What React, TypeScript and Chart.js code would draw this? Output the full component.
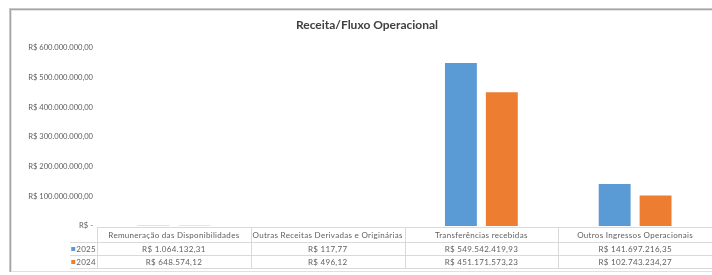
import React, { useEffect, useRef } from "react";
import { Chart, registerables } from "chart.js";

Chart.register(...registerables);

const title = "Receita/Fluxo Operacional";
const categories = [
  "Remuneração das Disponibilidades",
  "Outras Receitas Derivadas e Originárias",
  "Transferências recebidas",
  "Outros Ingressos Operacionais",
];
const seriesLabels = ["2025", "2024"];
const values2025 = [1064132.31, 117.77, 549542419.93, 141697216.35];
const values2024 = [648574.12, 496.12, 451171573.23, 102743234.27];
const yMin = 0;
const yMax = 600000000;
const yStep = 100000000;

const COLORS = ["#5B9BD5", "#ED7D31"];
const TEXT = "#606060";
const FONT = "Lato, 'Open Sans', sans-serif";

function fmtBR(v: number): string {
  const fixed = Math.abs(v).toFixed(2);
  const [intPart, dec] = fixed.split(".");
  const withDots = intPart.replace(/\B(?=(\d{3})+(?!\d))/g, ".");
  return (v < 0 ? "-" : "") + withDots + "," + dec;
}
function fmtMoney(v: number): string {
  if (v === 0) return "R$ -";
  return "R$ " + fmtBR(v);
}

const framePlugin = {
  id: "frame",
  beforeDraw(chart: any) {
    const { ctx, width, height } = chart;
    ctx.save();
    ctx.fillStyle = "#ffffff";
    ctx.fillRect(0, 0, width, height);
    ctx.fillStyle = "#c8c8c8";
    ctx.fillRect(9, 8, width - 9, 1);
    ctx.fillStyle = "#a6a6a6";
    ctx.fillRect(9, 9, width - 9, 1);
    ctx.fillStyle = "#e4e4e4";
    ctx.fillRect(11, 10, width - 11, 1);
    ctx.fillStyle = "#c8c8c8";
    ctx.fillRect(9, 8, 1, 264);
    ctx.fillStyle = "#a6a6a6";
    ctx.fillRect(10, 9, 1, 263);
    ctx.fillStyle = "#e4e4e4";
    ctx.fillRect(11, 10, 1, 262);
    ctx.fillStyle = "#e0e0e0";
    ctx.fillRect(11, 271, width - 11, 1);
    ctx.restore();
  },
  afterDraw(chart: any) {
    const { ctx, chartArea } = chart;
    ctx.save();
    ctx.fillStyle = "#404040";
    ctx.font = `bold 12px ${FONT}`;
    ctx.textAlign = "center";
    ctx.textBaseline = "middle";
    ctx.fillText(title, 367, 25);

    const left = chartArea.left;
    const right = chartArea.right;
    const n = categories.length;
    const w = (right - left) / n;
    const yTop = Math.round(chartArea.bottom) + 1;
    const yHead = yTop + 15;
    const yRow1 = yHead + 13;
    const yRow2 = yRow1 + 13;
    ctx.strokeStyle = "#d9d9d9";
    ctx.lineWidth = 1;
    ctx.beginPath();
    ctx.moveTo(left, yTop + 0.5);
    ctx.lineTo(right, yTop + 0.5);
    for (const yy of [yHead, yRow1, yRow2]) {
      ctx.moveTo(70, yy + 0.5);
      ctx.lineTo(right, yy + 0.5);
    }
    for (let i = 0; i < n; i++) {
      const xx = Math.round(left + i * w) + 0.5;
      ctx.moveTo(xx, yTop);
      ctx.lineTo(xx, yRow2 + 1);
    }
    ctx.stroke();

    ctx.fillStyle = TEXT;
    ctx.font = `8px ${FONT}`;
    (ctx as any).letterSpacing = "0.3px";
    ctx.textAlign = "center";
    ctx.textBaseline = "middle";
    const rows = [values2025, values2024];
    categories.forEach((c, i) => {
      const cx = left + (i + 0.5) * w;
      ctx.fillText(c, cx, (yTop + yHead) / 2 + 0.5);
      ctx.fillText(fmtMoney(rows[0][i]), cx, (yHead + yRow1) / 2 + 0.5);
      ctx.fillText(fmtMoney(rows[1][i]), cx, (yRow1 + yRow2) / 2 + 0.5);
    });
    const rowYs = [(yHead + yRow1) / 2 + 0.5, (yRow1 + yRow2) / 2 + 0.5];
    seriesLabels.forEach((lab, k) => {
      ctx.textAlign = "right";
      ctx.fillStyle = TEXT;
      ctx.fillText(lab, left - 1, rowYs[k]);
      const tw = ctx.measureText(lab).width;
      ctx.fillStyle = COLORS[k];
      ctx.fillRect(left - 1 - tw - 5, rowYs[k] - 2, 4, 4);
    });
    ctx.restore();
  },
};

export default function App() {
  const ref = useRef<HTMLCanvasElement | null>(null);
  useEffect(() => {
    if (!ref.current) return;
    const chart = new Chart(ref.current, {
      type: "bar",
      data: {
        labels: categories,
        datasets: [
          {
            label: seriesLabels[0],
            data: values2025,
            backgroundColor: COLORS[0],
            barPercentage: 0.78,
            categoryPercentage: 0.532,
          },
          {
            label: seriesLabels[1],
            data: values2024,
            backgroundColor: COLORS[1],
            barPercentage: 0.78,
            categoryPercentage: 0.532,
          },
        ],
      },
      options: {
        responsive: false,
        animation: false,
        devicePixelRatio: 1,
        layout: { padding: { left: 0, right: 0, top: 48, bottom: 49 } },
        plugins: {
          legend: { display: false },
          title: { display: false },
          tooltip: { enabled: false },
        },
        scales: {
          x: { display: false },
          y: {
            min: yMin,
            max: yMax,
            grid: { display: false, drawTicks: false },
            border: { display: false },
            ticks: {
              stepSize: yStep,
              padding: 4,
              color: TEXT,
              font: { family: FONT, size: 7.6 },
              callback: (v: any) => fmtMoney(Number(v)),
            },
            afterFit: (s: any) => {
              s.width = 97;
            },
          },
        },
      },
      plugins: [framePlugin],
    });
    return () => chart.destroy();
  }, []);
  return (
    <div style={{ position: "absolute", left: 0, top: 0, width: 712, height: 275 }}>
      <canvas ref={ref} width={712} height={275} style={{ display: "block" }} />
    </div>
  );
}
